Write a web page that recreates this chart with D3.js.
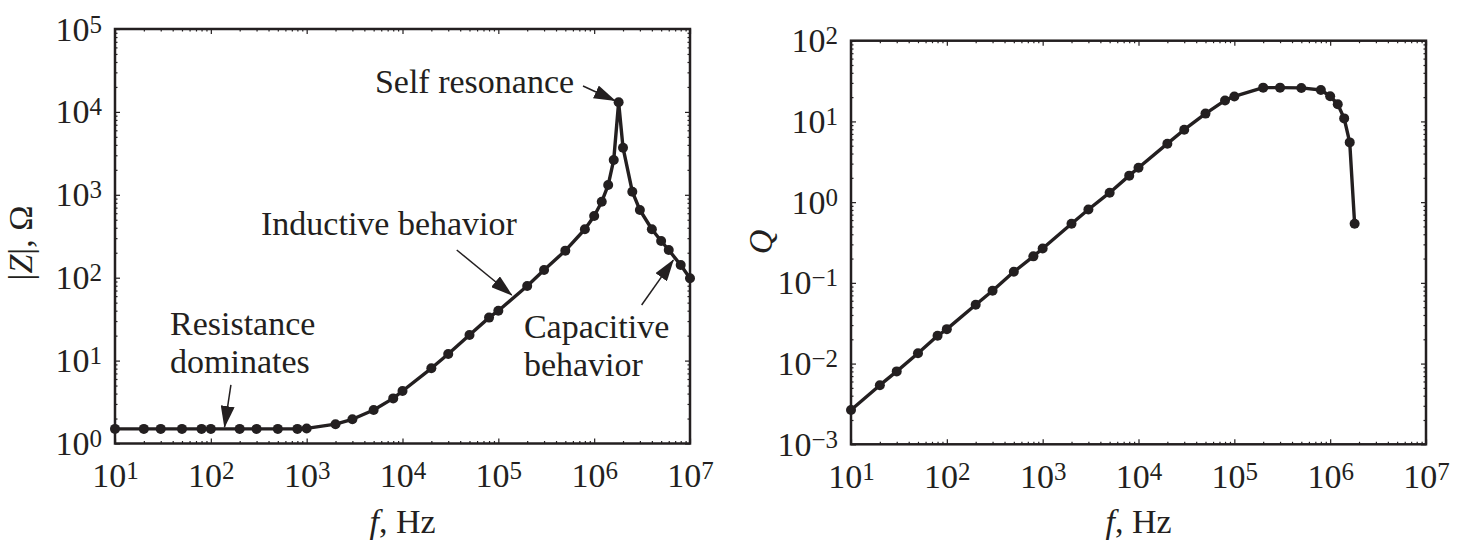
<!DOCTYPE html>
<html>
<head>
<meta charset="utf-8">
<script src="https://cdn.jsdelivr.net/npm/d3@7"></script>
<style>
  body { margin: 0; background: #fff; }
</style>
</head>
<body>
<div id="chart"></div>
<script>
// frequency grid (Hz) shared by both plots
var freq = [10, 20, 30, 50, 80, 100, 200, 300, 500, 800,
    1e3, 2e3, 3e3, 5e3, 8e3, 1e4, 2e4, 3e4, 5e4, 8e4,
    1e5, 2e5, 3e5, 5e5, 8e5, 1e6, 1.2e6, 1.4e6, 1.6e6, 1.8e6,
    2e6, 2.5e6, 3e6, 4e6, 5e6, 6e6, 8e6, 1e7];

// |Z| in ohm
var impedance = [1.5, 1.5, 1.5, 1.5, 1.5, 1.5, 1.5, 1.5, 1.5, 1.5,
    1.52, 1.71, 1.96, 2.54, 3.5, 4.3, 8.07, 12, 20.4, 33,
    40, 79.4, 124, 212, 384, 555, 826, 1312, 2630, 13060,
    3700, 1090, 656, 384, 277, 216, 142, 98.4];

// quality factor, first 30 frequencies
var quality = [0.00266, 0.0054, 0.0080, 0.0134, 0.0221, 0.0267, 0.0535, 0.080, 0.137, 0.213,
    0.267, 0.54, 0.81, 1.31, 2.13, 2.67, 5.3, 7.9, 12.5, 18.2,
    20.4, 26.2, 26.2, 26.0, 24.5, 20.5, 16.3, 10.9, 5.5, 0.54];

var xTicks = [1e1, 1e2, 1e3, 1e4, 1e5, 1e6, 1e7];
var zTicks = [1e0, 1e1, 1e2, 1e3, 1e4, 1e5];
var qTicks = [1e-3, 1e-2, 1e-1, 1e0, 1e1, 1e2];

// annotations on the |Z| plot, in data units [f, |Z|]
var notes = [
    {lines: ["Self resonance"], at: [6.17e5, 16760], anchor: "end", from: [7.65e5, 20500], to: [1.65e6, 13650]},
    {lines: ["Inductive behavior"], at: [334, 327], anchor: "start", from: [36800, 216], to: [1.38e5, 61.8]},
    {lines: ["Capacitive", "behavior"], at: [1.85e5, 18.5], anchor: "start", from: [3.13e6, 46.9], to: [6.7e6, 163]},
    {lines: ["Resistance", "dominates"], at: [37.5, 20.2], anchor: "start", from: [162, 5.08], to: [139, 1.58]}
];

var ink = "#231f20";
var font = '"Liberation Serif", "Times New Roman", Times, serif';

var svg = d3.select("#chart").append("svg")
    .attr("width", 1468)
    .attr("height", 550)
    .style("font-family", font);

svg.append("defs").append("marker")
    .attr("id", "head")
    .attr("markerUnits", "userSpaceOnUse")
    .attr("markerWidth", 22)
    .attr("markerHeight", 14)
    .attr("refX", 21)
    .attr("refY", 7)
    .attr("orient", "auto")
    .append("path")
    .attr("d", "M0,0 L22,7 L0,14 Z")
    .attr("fill", ink);

function minors(lo, hi) {
    var out = [];
    for (var e = lo; e < hi; e++) {
        for (var m = 2; m <= 9; m++) out.push(m * Math.pow(10, e));
    }
    return out;
}

function powLabel(sel) {
    sel.each(function(d) {
        var e = Math.round(Math.log10(d));
        var t = d3.select(this);
        t.text(null);
        t.append("tspan").text("10");
        t.append("tspan").attr("dy", -8).attr("font-size", 25)
            .text(e < 0 ? "\u2212" + (-e) : e);
    });
}

function tickAxis(g, axis, tr, values, size) {
    var a = g.append("g").attr("transform", tr)
        .call(axis.tickValues(values).tickSizeInner(-size).tickSizeOuter(0).tickFormat(""));
    a.select(".domain").remove();
    a.selectAll(".tick line").attr("stroke", ink).attr("stroke-width", 1.2);
    a.selectAll(".tick text").remove();
    return a;
}

function panel(box, yDomain, yTicks, values, n) {
    var x = d3.scaleLog().domain([10, 1e7]).range([box.x0, box.x1]);
    var y = d3.scaleLog().domain(yDomain).range([box.y1, box.y0]);
    var g = svg.append("g");
    var xMin = minors(1, 7);
    var yMin = minors(Math.round(Math.log10(yDomain[0])), Math.round(Math.log10(yDomain[1])));

    // ticks inside on all four sides
    tickAxis(g, d3.axisBottom(x), "translate(0," + box.y1 + ")", xTicks, 5);
    tickAxis(g, d3.axisBottom(x), "translate(0," + box.y1 + ")", xMin, 2.5);
    tickAxis(g, d3.axisTop(x), "translate(0," + box.y0 + ")", xTicks, 5);
    tickAxis(g, d3.axisTop(x), "translate(0," + box.y0 + ")", xMin, 2.5);
    tickAxis(g, d3.axisLeft(y), "translate(" + box.x0 + ",0)", yTicks, 5);
    tickAxis(g, d3.axisLeft(y), "translate(" + box.x0 + ",0)", yMin, 2.5);
    tickAxis(g, d3.axisRight(y), "translate(" + box.x1 + ",0)", yTicks, 5);
    tickAxis(g, d3.axisRight(y), "translate(" + box.x1 + ",0)", yMin, 2.5);

    // tick labels
    var xl = g.append("g").attr("transform", "translate(0," + box.y1 + ")")
        .call(d3.axisBottom(x).tickValues(xTicks).tickSize(0));
    xl.select(".domain").remove();
    xl.selectAll(".tick text").attr("y", 43.5).attr("dy", null)
        .attr("fill", ink).attr("font-size", 34).attr("font-family", font)
        .call(powLabel);

    var yl = g.append("g").attr("transform", "translate(" + box.x0 + ",0)")
        .call(d3.axisLeft(y).tickValues(yTicks).tickSize(0));
    yl.select(".domain").remove();
    yl.selectAll(".tick text").attr("x", -13).attr("y", 11).attr("dy", null)
        .attr("fill", ink).attr("font-size", 34).attr("font-family", font)
        .call(powLabel);

    g.append("rect")
        .attr("x", box.x0).attr("y", box.y0)
        .attr("width", box.x1 - box.x0).attr("height", box.y1 - box.y0)
        .attr("fill", "none").attr("stroke", ink).attr("stroke-width", 2.5);

    var pts = values.map(function(v, i) { return {f: freq[i], v: v}; }).slice(0, n);

    var line = d3.line()
        .x(function(d) { return x(d.f); })
        .y(function(d) { return y(d.v); });

    g.append("path").datum(pts)
        .attr("d", line)
        .attr("fill", "none")
        .attr("stroke", ink)
        .attr("stroke-width", 3.4)
        .attr("stroke-linejoin", "round");

    g.selectAll(".dot").data(pts)
        .enter().append("circle")
        .attr("class", "dot")
        .attr("cx", function(d) { return x(d.f); })
        .attr("cy", function(d) { return y(d.v); })
        .attr("r", 5)
        .attr("fill", ink);

    // x label
    var xt = g.append("text")
        .attr("x", (box.x0 + box.x1) / 2)
        .attr("y", 533)
        .attr("text-anchor", "middle")
        .attr("font-size", 34)
        .attr("fill", ink);
    xt.append("tspan").attr("font-style", "italic").text("f");
    xt.append("tspan").text(", Hz");

    return {g: g, x: x, y: y};
}

var left = panel({x0: 115, x1: 690, y0: 29, y1: 443.5}, [1, 1e5], zTicks, impedance, freq.length);
var right = panel({x0: 851, x1: 1426, y0: 40.7, y1: 444.3}, [1e-3, 1e2], qTicks, quality, quality.length);

// y labels
var zl = svg.append("text")
    .attr("transform", "translate(32,243) rotate(-90)")
    .attr("text-anchor", "middle")
    .attr("font-size", 34)
    .attr("fill", ink);
zl.append("tspan").text("|");
zl.append("tspan").attr("font-style", "italic").text("Z");
zl.append("tspan").text("|, \u03A9");

svg.append("text")
    .attr("transform", "translate(772,242) rotate(-90)")
    .attr("text-anchor", "middle")
    .attr("font-size", 34)
    .attr("font-style", "italic")
    .attr("fill", ink)
    .text("Q");

// annotations, one text per line
notes.forEach(function(a) {
    a.lines.forEach(function(s, i) {
        left.g.append("text")
            .attr("x", left.x(a.at[0]))
            .attr("y", left.y(a.at[1]) + i * 38)
            .attr("text-anchor", a.anchor)
            .attr("font-size", 34)
            .attr("fill", ink)
            .text(s);
    });
    left.g.append("line")
        .attr("x1", left.x(a.from[0])).attr("y1", left.y(a.from[1]))
        .attr("x2", left.x(a.to[0])).attr("y2", left.y(a.to[1]))
        .attr("stroke", ink)
        .attr("stroke-width", 1.5)
        .attr("marker-end", "url(#head)");
});
</script>
</body>
</html>
